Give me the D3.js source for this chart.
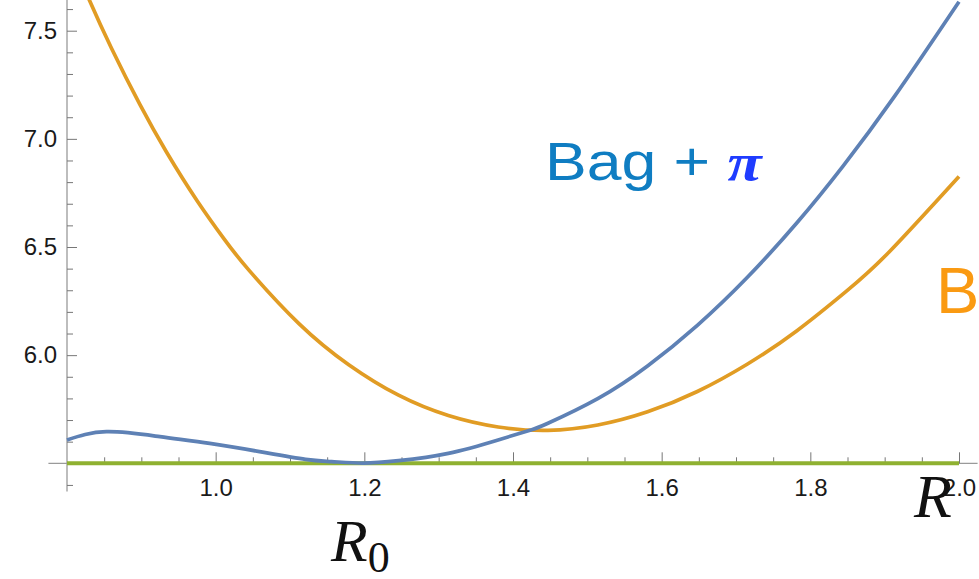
<!DOCTYPE html>
<html>
<head>
<meta charset="utf-8">
<script src="https://cdn.jsdelivr.net/npm/d3@7/dist/d3.min.js"></script>
<style>
  html, body { margin: 0; padding: 0; background: #fff; }
  svg { display: block; }
</style>
</head>
<body>
<svg id="chart" width="979" height="579"></svg>
<script>
// ---- data ----
const bagPiR = [0.800, 0.853, 0.925, 0.992, 1.059, 1.121, 1.156, 1.198, 1.246, 1.313, 1.380, 1.424, 1.447, 1.514, 1.581, 1.648, 1.715, 1.782, 1.844, 1.913, 2.000];
const bagPiE = [5.608, 5.646, 5.623, 5.592, 5.554, 5.518, 5.508, 5.501, 5.512, 5.546, 5.608, 5.654, 5.685, 5.799, 5.950, 6.138, 6.359, 6.612, 6.874, 7.195, 7.634];

const bagR = [0.800, 0.829, 0.860, 0.898, 0.934, 0.975, 1.012, 1.045, 1.112, 1.179, 1.246, 1.313, 1.380, 1.447, 1.514, 1.581, 1.648, 1.715, 1.782, 1.849, 1.906, 2.000];
const bagE = [7.886, 7.650, 7.418, 7.159, 6.938, 6.714, 6.534, 6.392, 6.146, 5.956, 5.815, 5.721, 5.668, 5.652, 5.677, 5.738, 5.832, 5.958, 6.113, 6.297, 6.477, 6.826];

const baseR = [0.8, 2.0];
const baseE = [5.5, 5.5];

const xMajorTicks = [1.0, 1.2, 1.4, 1.6, 1.8, 2.0];
const xMinorTicks = [0.85, 0.90, 0.95, 1.05, 1.10, 1.15, 1.25, 1.30, 1.35, 1.45, 1.50, 1.55, 1.65, 1.70, 1.75, 1.85, 1.90, 1.95];
const yMajorTicks = [6.0, 6.5, 7.0, 7.5];
const yMinorTicks = [5.4, 5.6, 5.7, 5.8, 5.9, 6.1, 6.2, 6.3, 6.4, 6.6, 6.7, 6.8, 6.9, 7.1, 7.2, 7.3, 7.4, 7.6];

// ---- layout ----
const svg = d3.select("#chart");
const x = d3.scaleLinear().domain([0.8, 2.0]).range([67, 959]);
const y = d3.scaleLinear().domain([5.5, 7.5]).range([463.3, 30.7]);

const axisColor = "#9a9a9a";
const tickColor = "#777";
const labelFont = "'Liberation Sans', Arial, sans-serif";

// axis lines
svg.append("line")
  .attr("x1", x(0.775)).attr("x2", x(2.025))
  .attr("y1", y(5.5)).attr("y2", y(5.5))
  .attr("stroke", axisColor).attr("stroke-width", 1.3);
svg.append("line")
  .attr("x1", x(0.8)).attr("x2", x(0.8))
  .attr("y1", 0).attr("y2", y(5.37))
  .attr("stroke", axisColor).attr("stroke-width", 1.3);

// x axis major ticks + labels
const gx = svg.append("g").attr("transform", `translate(0,${y(5.5)})`)
  .call(d3.axisBottom(x).tickValues(xMajorTicks).tickSize(-11).tickPadding(16)
        .tickFormat(d3.format(".1f")));
gx.select(".domain").remove();
gx.selectAll(".tick line").attr("stroke", tickColor).attr("stroke-width", 1);
gx.selectAll(".tick text").attr("font-family", labelFont).attr("font-size", 24).attr("fill", "#1a1a1a");

// x axis minor ticks
const gxm = svg.append("g").attr("transform", `translate(0,${y(5.5)})`)
  .call(d3.axisBottom(x).tickValues(xMinorTicks).tickSize(-6).tickFormat(""));
gxm.select(".domain").remove();
gxm.selectAll(".tick line").attr("stroke", tickColor).attr("stroke-width", 1);

// y axis major ticks + labels
const gy = svg.append("g").attr("transform", `translate(${x(0.8)},0)`)
  .call(d3.axisLeft(y).tickValues(yMajorTicks).tickSize(-10).tickPadding(10)
        .tickFormat(d3.format(".1f")));
gy.select(".domain").remove();
gy.selectAll(".tick line").attr("stroke", tickColor).attr("stroke-width", 1);
gy.selectAll(".tick text").attr("font-family", labelFont).attr("font-size", 24).attr("fill", "#1a1a1a");

// y axis minor ticks
const gym = svg.append("g").attr("transform", `translate(${x(0.8)},0)`)
  .call(d3.axisLeft(y).tickValues(yMinorTicks).tickSize(-6).tickFormat(""));
gym.select(".domain").remove();
gym.selectAll(".tick line").attr("stroke", tickColor).attr("stroke-width", 1);

// ---- curves ----
svg.append("clipPath").attr("id", "plotclip")
  .append("rect").attr("x", 0).attr("y", 0).attr("width", 979).attr("height", 492);

const line = d3.line().x(d => x(d[0])).y(d => y(d[1])).curve(d3.curveNatural);
const curves = svg.append("g").attr("clip-path", "url(#plotclip)");

curves.append("path")
  .datum(baseR.map((r, i) => [r, baseE[i]]))
  .attr("d", line).attr("fill", "none")
  .attr("stroke", "#8fb131").attr("stroke-width", 4);

curves.append("path")
  .datum(bagR.map((r, i) => [r, bagE[i]]))
  .attr("d", line).attr("fill", "none")
  .attr("stroke", "#e19c24").attr("stroke-width", 3.7);

curves.append("path")
  .datum(bagPiR.map((r, i) => [r, bagPiE[i]]))
  .attr("d", line).attr("fill", "none")
  .attr("stroke", "#5e81b5").attr("stroke-width", 3.7);

// ---- labels ----
const bagPi = svg.append("text")
  .attr("transform", "translate(545,180) scale(1.18,1)")
  .attr("font-family", labelFont).attr("font-size", 53);
bagPi.append("tspan").attr("fill", "#0f7dc2").text("Bag + ");
bagPi.append("tspan").attr("fill", "#1f3cff")
  .attr("font-family", "'Liberation Serif', 'Times New Roman', serif")
  .attr("font-style", "italic").attr("font-weight", "bold").text("π");

svg.append("text")
  .attr("x", 936).attr("y", 313)
  .attr("font-family", labelFont).attr("font-size", 65)
  .attr("fill", "#fa9a12").text("B");

const r0 = svg.append("text")
  .attr("x", 331).attr("y", 561)
  .attr("font-family", "'Liberation Serif', 'Times New Roman', serif")
  .attr("font-size", 60).attr("fill", "#111");
r0.append("tspan").attr("font-style", "italic").text("R");
r0.append("tspan").attr("font-size", 44).attr("dy", 11).text("0");

svg.append("text")
  .attr("x", 914).attr("y", 517)
  .attr("font-family", "'Liberation Serif', 'Times New Roman', serif")
  .attr("font-style", "italic")
  .attr("font-size", 62).attr("fill", "#111").text("R");
</script>
</body>
</html>
